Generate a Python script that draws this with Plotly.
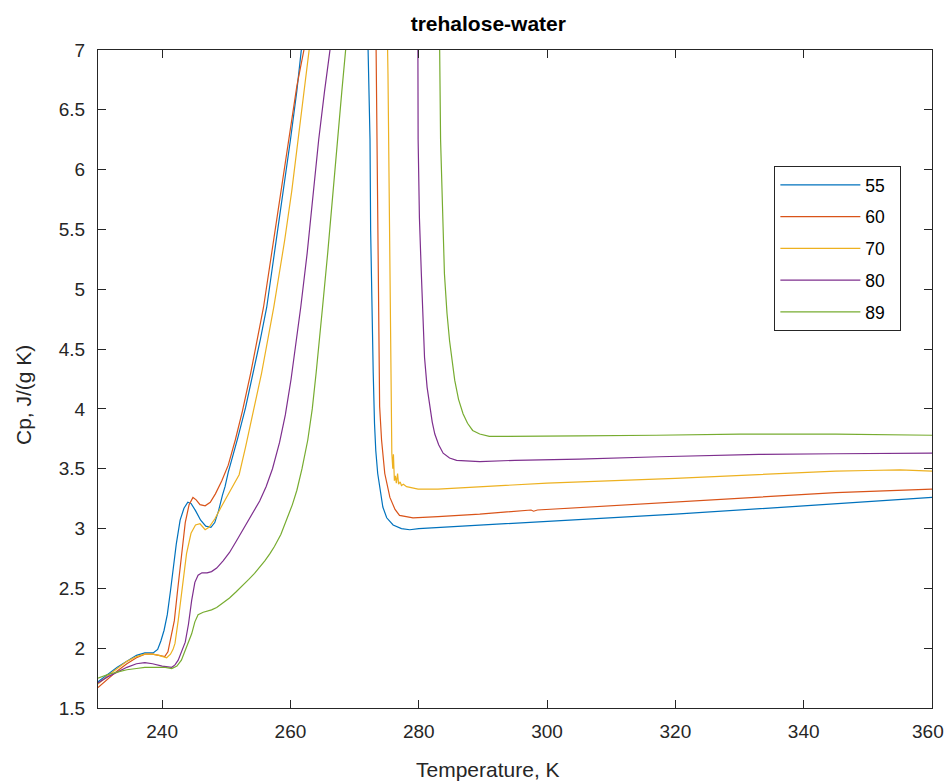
import plotly.graph_objects as go

# Heat capacity of trehalose-water mixtures (wt% trehalose given by the legend label)
labels = ["55", "60", "70", "80", "89"]
colors = ["#0072BD", "#D95319", "#EDB120", "#7E2F8E", "#77AC30"]

t55 = [230.0, 231.5, 233.0, 234.5, 236.0, 237.3, 238.6, 239.3, 239.8, 240.3, 240.8, 241.3,
       241.7, 242.2, 242.8, 243.4, 244.0, 244.5, 245.2, 246.0, 246.8, 247.6, 248.2, 248.8,
       249.4, 249.8, 250.3, 251.0, 251.8, 253.0, 254.2, 255.3, 256.3, 257.8, 258.9, 260.0,
       261.0, 261.7, 262.3, 267.0, 271.9, 272.1, 272.4, 272.5, 272.6, 272.75, 272.9, 273.1,
       273.3, 273.6, 274.0, 274.4, 275.0, 276.0, 277.3, 278.6, 280.0, 286.4, 300.0, 320.0,
       340.0, 360.0]
cp55 = [1.72, 1.78, 1.84, 1.89, 1.94, 1.96, 1.96, 1.99, 2.06, 2.15, 2.28, 2.48,
        2.65, 2.87, 3.07, 3.17, 3.22, 3.21, 3.15, 3.07, 3.02, 3.01, 3.05, 3.15,
        3.28, 3.35, 3.47, 3.60, 3.76, 4.01, 4.30, 4.58, 4.85, 5.41, 5.82, 6.25,
        6.66, 7.00, 7.30, 14.0, 8.5, 7.00, 6.25, 5.49, 5.13, 4.70, 4.30, 3.88,
        3.65, 3.46, 3.30, 3.18, 3.09, 3.03, 3.00, 2.99, 3.00, 3.02, 3.06, 3.12,
        3.19, 3.26]

t60 = [230.0, 231.5, 233.0, 234.5, 236.0, 237.3, 238.5, 239.5, 240.4, 240.9, 241.2, 241.6,
       241.9, 242.4, 243.0, 243.6, 244.2, 244.8, 245.3, 245.9, 246.7, 247.5, 248.3, 249.3,
       250.3, 251.4, 252.5, 253.8, 255.8, 257.4, 258.6, 259.7, 261.0, 262.1, 262.8, 268.0,
       273.2, 273.35, 273.5, 273.7, 273.9, 274.2, 274.7, 275.5, 276.3, 277.0, 279.1, 283.0,
       286.4, 289.5, 297.5, 297.9, 298.5, 310.0, 333.0, 345.0, 360.0]
cp60 = [1.67, 1.74, 1.81, 1.87, 1.92, 1.95, 1.95, 1.94, 1.93, 1.97, 2.04, 2.15,
        2.23, 2.48, 2.79, 3.05, 3.20, 3.26, 3.24, 3.20, 3.19, 3.22, 3.29, 3.40,
        3.53, 3.74, 3.98, 4.30, 4.85, 5.41, 5.85, 6.25, 6.70, 7.00, 7.30, 14.0,
        8.0, 7.00, 6.25, 5.00, 4.02, 3.74, 3.46, 3.26, 3.16, 3.11, 3.09, 3.10,
        3.11, 3.12, 3.155, 3.145, 3.155, 3.19, 3.26, 3.30, 3.33]

t70 = [230.0, 231.5, 233.0, 234.5, 236.0, 237.3, 238.5, 239.5, 240.7, 241.3, 241.7, 242.0,
       242.5, 243.1, 243.8, 244.5, 245.2, 245.9, 246.3, 246.7, 247.3, 248.2, 249.2, 250.0,
       250.8, 252.0, 253.0, 254.2, 255.5, 257.4, 259.1, 260.2, 261.2, 262.2, 263.0, 263.6,
       269.0, 275.05, 275.2, 275.35, 275.6, 275.8, 275.95, 276.05, 276.2, 276.35, 276.5, 276.7,
       276.85, 277.1, 277.3, 277.6, 278.1, 279.0, 279.9, 283.0, 286.4, 289.5, 300.0, 320.0,
       333.0, 345.0, 350.0, 355.0, 360.0]
cp70 = [1.70, 1.77, 1.83, 1.89, 1.93, 1.95, 1.95, 1.94, 1.92, 1.95, 1.99, 2.04,
        2.23, 2.50, 2.79, 2.96, 3.03, 3.04, 3.01, 2.99, 3.01, 3.08, 3.18, 3.26,
        3.33, 3.45, 3.68, 3.98, 4.30, 4.85, 5.41, 5.82, 6.25, 6.65, 7.00, 7.30,
        14.0, 7.30, 6.80, 6.00, 4.30, 3.63, 3.50, 3.62, 3.40, 3.44, 3.38, 3.46,
        3.37, 3.39, 3.36, 3.37, 3.35, 3.34, 3.33, 3.33, 3.34, 3.35, 3.38, 3.42,
        3.45, 3.48, 3.485, 3.49, 3.48]

t80 = [230.0, 231.5, 233.0, 234.5, 236.0, 237.3, 238.5, 240.0, 241.5, 242.0, 242.5, 243.1,
       243.6, 244.1, 244.6, 245.1, 245.6, 246.2, 247.0, 247.7, 248.5, 249.5, 250.5, 251.5,
       252.5, 253.5, 254.4, 255.2, 256.2, 257.2, 258.3, 259.2, 260.1, 261.0, 261.6, 262.6,
       263.5, 264.4, 265.3, 266.2, 266.9, 273.0, 279.85, 279.9, 280.1, 280.4, 280.65, 280.9,
       281.3, 281.7, 282.1, 282.5, 283.1, 283.8, 284.8, 285.9, 289.5, 295.0, 305.0, 317.5,
       333.0, 345.0, 360.0]
cp80 = [1.71, 1.76, 1.80, 1.84, 1.87, 1.88, 1.87, 1.85, 1.84, 1.86, 1.90, 1.98,
        2.05, 2.20, 2.40, 2.55, 2.61, 2.63, 2.63, 2.64, 2.67, 2.73, 2.80, 2.89,
        2.98, 3.07, 3.15, 3.23, 3.35, 3.50, 3.72, 3.95, 4.25, 4.60, 4.85, 5.30,
        5.78, 6.25, 6.65, 7.00, 7.30, 14.0, 7.30, 6.25, 5.60, 5.13, 4.75, 4.43,
        4.18, 4.02, 3.89, 3.79, 3.70, 3.63, 3.59, 3.57, 3.56, 3.57, 3.58, 3.60,
        3.62, 3.625, 3.63]

t89 = [230.0, 231.5, 233.0, 234.5, 236.0, 237.3, 239.0, 240.5, 241.5, 242.3, 243.0, 243.6,
       244.1, 244.6, 245.1, 245.6, 246.4, 247.7, 248.5, 249.5, 250.5, 251.5, 252.5, 253.5,
       254.4, 255.2, 256.0, 256.8, 257.5, 258.5, 259.5, 260.3, 261.0, 261.8, 262.7, 263.4,
       264.0, 264.5, 265.0, 265.8, 266.5, 267.3, 268.0, 268.6, 269.2, 276.0, 283.2, 283.4,
       284.0, 284.4, 284.8, 285.6, 286.2, 286.9, 287.6, 288.4, 289.5, 291.0, 295.0, 305.0,
       317.0, 330.0, 345.0, 360.0]
cp89 = [1.75, 1.78, 1.80, 1.82, 1.83, 1.84, 1.84, 1.84, 1.83, 1.85, 1.90, 1.98,
        2.05, 2.12, 2.22, 2.28, 2.30, 2.32, 2.34, 2.38, 2.42, 2.47, 2.52, 2.575,
        2.625, 2.675, 2.73, 2.79, 2.85, 2.95, 3.08, 3.20, 3.32, 3.50, 3.74, 4.00,
        4.30, 4.56, 4.85, 5.30, 5.75, 6.25, 6.65, 7.00, 7.30, 14.0, 7.30, 6.25,
        5.13, 4.80, 4.57, 4.24, 4.08, 3.96, 3.88, 3.82, 3.79, 3.77, 3.77, 3.775,
        3.78, 3.79, 3.79, 3.78]

x_ticks = [240, 260, 280, 300, 320, 340, 360]
x_ticktext = ["240", "260", "280", "300", "320", "340", "360"]
y_ticks = [1.5, 2, 2.5, 3, 3.5, 4, 4.5, 5, 5.5, 6, 6.5, 7]
y_ticktext = ["1.5", "2", "2.5", "3", "3.5", "4", "4.5", "5", "5.5", "6", "6.5", "7"]

temps = [t55, t60, t70, t80, t89]
cps = [cp55, cp60, cp70, cp80, cp89]

FONT = "Liberation Sans, Arial, Helvetica, sans-serif"
AX = "#262626"
PAD = "\u00a0\u00a0"  # trailing room inside the legend box

fig = go.Figure()
for lab, col, t, c in zip(labels, colors, temps, cps):
    fig.add_trace(go.Scatter(
        x=t, y=c, mode="lines", name=lab + PAD, legendgroup=lab,
        line=dict(color=col, width=1.2),
    ))

axis_common = dict(
    showline=True, linecolor=AX, linewidth=1, mirror="ticks",
    ticks="inside", ticklen=8, tickwidth=1, tickcolor=AX,
    showgrid=False, zeroline=False, automargin=False,
    tickfont=dict(family=FONT, size=19, color=AX),
)

# the last x label sits at the page edge, so it is drawn as a nudged annotation
edge_label = dict(text=x_ticktext[-1], xref="x", yref="paper", x=x_ticks[-1], y=-0.035,
                  xanchor="center", yanchor="middle", xshift=-4, showarrow=False,
                  font=dict(family=FONT, size=19, color=AX))

fig.update_layout(
    width=946, height=784,
    margin=dict(l=98, r=14, t=50, b=76, autoexpand=False),
    paper_bgcolor="white", plot_bgcolor="white",
    font=dict(family=FONT, color=AX),
    title=dict(text="<b>trehalose-water</b>", x=0.468, xref="paper", xanchor="center",
               y=1 - 24 / 784, yanchor="middle",
               font=dict(family=FONT, size=21, color="black")),
    xaxis=dict(range=[229.9999, 360.0001], tickvals=x_ticks,
               ticktext=x_ticktext[:-1] + [""], ticklabelstandoff=6, **axis_common),
    yaxis=dict(range=[1.5, 7], tickvals=y_ticks, ticktext=y_ticktext,
               ticklabelstandoff=8, **axis_common),
    legend=dict(x=0.811, y=0.8237, xanchor="left", yanchor="top",
                bgcolor="white", bordercolor=AX, borderwidth=1,
                font=dict(family=FONT, size=17.5, color="black"),
                traceorder="grouped", tracegroupgap=6, itemwidth=80),
    annotations=[
        edge_label,
        dict(text="Temperature, K", xref="paper", yref="paper", x=0.468, y=-0.0942,
             xanchor="center", yanchor="middle", showarrow=False,
             font=dict(family=FONT, size=21, color=AX)),
        dict(text="Cp, J/(g K)", xref="paper", yref="paper", x=-0.0887, y=0.4757,
             xanchor="center", yanchor="middle", showarrow=False, textangle=-90,
             font=dict(family=FONT, size=21, color=AX)),
    ],
)

fig.write_html("out.html", config={"displayModeBar": False})
